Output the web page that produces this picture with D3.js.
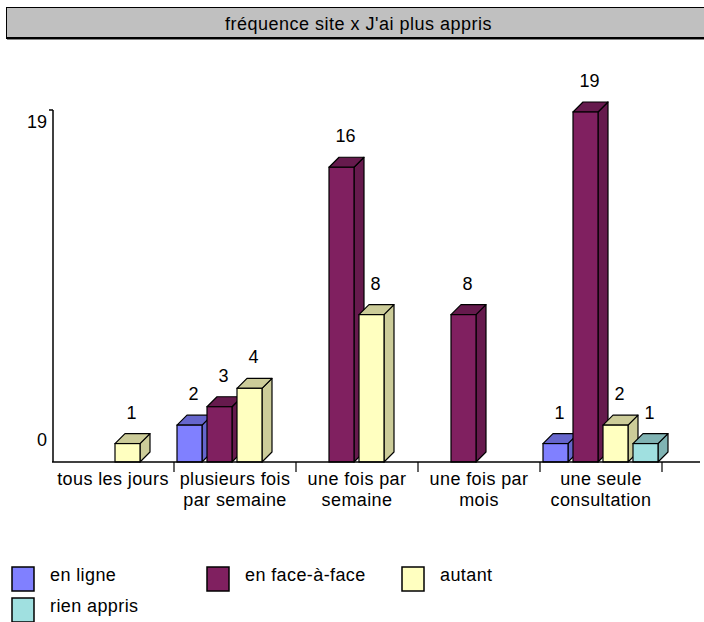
<!DOCTYPE html>
<html>
<head>
<meta charset="utf-8">
<script src="https://cdn.jsdelivr.net/npm/d3@7"></script>
<style>
  html, body { margin: 0; padding: 0; background: #fff; }
  svg { display: block; }
  text { font-family: "Liberation Sans", Arial, Helvetica, sans-serif; fill: #000; }
</style>
</head>
<body>
<svg id="chart" width="704" height="622"></svg>
<script>
// ---- data ----
const title = "fréquence site x J'ai plus appris";
const categories = ["tous les jours", "plusieurs fois par semaine", "une fois par semaine", "une fois par mois", "une seule consultation"];
const categoryLines = [["tous les jours"], ["plusieurs fois", "par semaine"], ["une fois par", "semaine"], ["une fois par", "mois"], ["une seule", "consultation"]];
const seriesNames = ["en ligne", "en face-à-face", "autant", "rien appris"];
const enLigne = [0, 2, 0, 0, 1];
const enFaceAFace = [0, 3, 16, 8, 19];
const autant = [1, 4, 8, 0, 2];
const rienAppris = [0, 0, 0, 0, 1];
const yTickValues = [0, 19];

const seriesValues = [enLigne, enFaceAFace, autant, rienAppris];
const frontColors = ["#8080FF", "#802060", "#FFFFC0", "#A0E0E0"];
const sideColors = ["#6666CC", "#661A4D", "#CCCC99", "#80B3B3"];

const svg = d3.select("#chart");

// ---- title box ----
svg.append("rect").attr("x", 6.5).attr("y", 7.5).attr("width", 720).attr("height", 30)
  .attr("fill", "#C0C0C0").attr("stroke", "#000").attr("stroke-width", 1);
svg.append("line").attr("x1", 6).attr("x2", 704).attr("y1", 38).attr("y2", 38)
  .attr("stroke", "#000").attr("stroke-width", 2);
svg.append("line").attr("x1", 7).attr("x2", 704).attr("y1", 39.5).attr("y2", 39.5)
  .attr("stroke", "#888").attr("stroke-width", 1);
svg.append("text").attr("x", 358.5).attr("y", 30).attr("text-anchor", "middle")
  .style("font-size", "18px").style("letter-spacing", "0.5px").text(title);

// ---- scales ----
const x = d3.scaleBand().domain(categories).range([52, 662]);
const xs = d3.scaleBand().domain(seriesNames).range([3, 118]).paddingInner(1 / 6).paddingOuter(0);
const y = d3.scaleLinear().domain([0, 19]).range([462, 112]);
const depth = 10;

// ---- axes ----
const axisX0 = 53;
svg.append("line").attr("x1", axisX0).attr("x2", axisX0).attr("y1", y(0)).attr("y2", y(19) - 2)
  .attr("stroke", "#000").attr("stroke-width", 1.5);
yTickValues.forEach(v => {
  if (v > 0) {
    svg.append("line").attr("x1", axisX0 - 4).attr("x2", axisX0).attr("y1", y(v) - 2).attr("y2", y(v) - 2)
      .attr("stroke", "#000").attr("stroke-width", 1.5);
  }
  svg.append("text").attr("x", 47).attr("y", v > 0 ? y(v) + 16 : y(v) - 16)
    .attr("text-anchor", "end").style("font-size", "18px").text(v);
});

// ---- bars ----
const barG = svg.append("g");
categories.forEach((c, ci) => {
  seriesNames.forEach((s, si) => {
    const v = seriesValues[si][ci];
    if (!v) return;
    const x0 = x(c) + xs(s);
    const w = xs.bandwidth();
    const yt = y(v), yb = y(0);
    const g = barG.append("g");
    // side
    g.append("polygon")
      .attr("points", [[x0 + w, yt], [x0 + w + depth, yt - depth], [x0 + w + depth, yb - depth], [x0 + w, yb]].map(p => p.join(",")).join(" "))
      .attr("fill", sideColors[si]).attr("stroke", "#000").attr("stroke-width", 1.2).attr("stroke-linejoin", "round");
    // top
    g.append("polygon")
      .attr("points", [[x0, yt], [x0 + depth, yt - depth], [x0 + w + depth, yt - depth], [x0 + w, yt]].map(p => p.join(",")).join(" "))
      .attr("fill", sideColors[si]).attr("stroke", "#000").attr("stroke-width", 1.2).attr("stroke-linejoin", "round");
    // front
    g.append("rect").attr("x", x0).attr("y", yt).attr("width", w).attr("height", yb - yt)
      .attr("fill", frontColors[si]).attr("stroke", "#000").attr("stroke-width", 1.2);
    // value label
    svg.append("text").attr("x", x0 + w / 2 + 4).attr("y", yt - depth - 15)
      .attr("text-anchor", "middle").style("font-size", "18px").text(v);
  });
});

// x axis line (drawn after bars)
svg.append("line").attr("x1", 52).attr("x2", 700).attr("y1", y(0)).attr("y2", y(0))
  .attr("stroke", "#000").attr("stroke-width", 1.5);
categories.forEach((c, ci) => {
  const xe = x(c) + x.bandwidth();
  svg.append("line").attr("x1", xe).attr("x2", xe).attr("y1", y(0)).attr("y2", y(0) + 10)
    .attr("stroke", "#000").attr("stroke-width", 1.2);
  const t = svg.append("text").attr("text-anchor", "middle").style("font-size", "18px").style("letter-spacing", "0.4px");
  categoryLines[ci].forEach((ln, li) => {
    t.append("tspan").attr("x", x(c) + x.bandwidth() / 2).attr("y", 485 + li * 21).text(ln);
  });
});

// ---- legend ----
const legendPos = [[12, 567], [207, 567], [402, 567], [12, 598]];
seriesNames.forEach((s, i) => {
  const [lx, ly] = legendPos[i];
  svg.append("rect").attr("x", lx).attr("y", ly).attr("width", 22).attr("height", 24)
    .attr("fill", frontColors[i]).attr("stroke", "#000").attr("stroke-width", 1.5);
  svg.append("text").attr("x", lx + 38).attr("y", ly + 14).style("font-size", "18px")
    .style("letter-spacing", "0.4px").text(s);
});
</script>
</body>
</html>
